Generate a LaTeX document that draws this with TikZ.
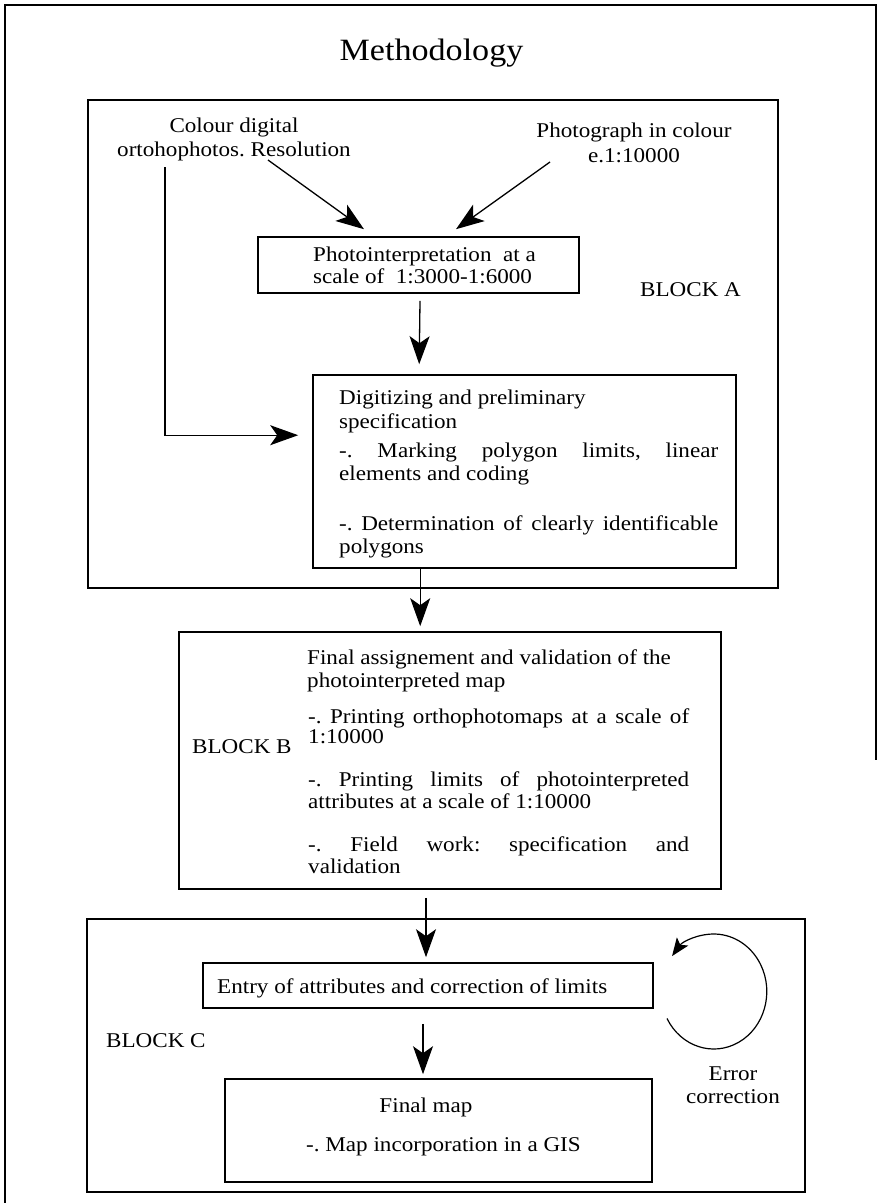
\documentclass[tikz,border=0pt]{standalone}
\usepackage{fontspec}
\setmainfont{Liberation Serif}[FakeStretch=1.1]
\usetikzlibrary{arrows.meta,calc}
\begin{document}
\begin{tikzpicture}[x=1pt,y=1pt,
  boxline/.style={draw=black,line width=1.6pt,inner sep=0pt},
  container/.style={boxline},
  txt/.style={inner sep=0pt,anchor=base west,font=\fontsize{21}{24}\selectfont\frenchspacing},
  ctxt/.style={txt,anchor=base},
  arr/.style={line width=1.3pt,-{Stealth[length=28pt,width=20pt,inset=7pt]}},
  looparr/.style={line width=1.2pt,-{Stealth[length=18pt,width=14pt,inset=4pt]}}]
\useasboundingbox (0,0) rectangle (877,-1203);
% outer frame (left, top, right part)
\draw[line width=2pt] (5,-1203) -- (5,-5) -- (876,-5) -- (876,-760);
\node[inner sep=0pt,anchor=base,font=\fontsize{31}{36}\selectfont] (title) at (431.5,-60) {Methodology};
% block A
\node[container,minimum width=690pt,minimum height=488pt] (blockA) at (433,-344) {};
\node[ctxt] (colour1) at (234,-132) {Colour digital};
\node[ctxt] (colour2) at (234,-156) {ortohophotos. Resolution};
\node[ctxt] (photo1) at (634,-137) {Photograph in colour};
\node[ctxt] (photo2) at (634,-162) {e.1:10000};
\node[boxline,minimum width=321pt,minimum height=56pt] (pi) at (418.5,-265) {};
\node[txt] (pi1) at (313,-261) {Photointerpretation\ \ at a};
\node[txt] (pi2) at (313,-283) {scale of\ \ 1:3000-1:6000};
\node[txt] (blockAlbl) at (640,-296) {BLOCK A};
\node[boxline,minimum width=423pt,minimum height=193pt] (digit) at (524.5,-471.5) {};
\node[txt] (d1) at (339,-404) {Digitizing and preliminary};
\node[txt] (d2) at (339,-428) {specification};
\node[txt] (d3) at (339,-457) {\makebox[379pt][s]{-. Marking polygon limits, linear}};
\node[txt] (d4) at (339,-480) {elements and coding};
\node[txt] (d5) at (339,-530) {\makebox[379pt][s]{-. Determination of clearly identificable}};
\node[txt] (d6) at (339,-553) {polygons};
\draw[arr] ($(colour2.base)+(34,-4)$) -- ($(pi.north)+(-54.5,7)$);
\draw[arr] ($(photo2.base)+(-84,0)$) -- ($(pi.north)+(37.5,7)$);
\draw[arr] ($(pi.south)+(1.5,-7)$) -- ($(digit.north west)+(107,10)$);
\draw[arr] ($(colour2.base)+(-69,-11)$) |- ($(digit.north west)+(-14,-61)$);
% block B
\node[container,minimum width=542pt,minimum height=257pt] (blockB) at (450,-760.5) {};
\node[txt] (blockBlbl) at (192,-753) {BLOCK B};
\node[txt] (b1) at (307,-664) {Final assignement and validation of the};
\node[txt] (b2) at (307,-687) {photointerpreted map};
\node[txt] (b3) at (308,-723) {\makebox[381pt][s]{-. Printing orthophotomaps at a scale of}};
\node[txt] (b4) at (308,-743) {1:10000};
\node[txt] (b5) at (308,-786) {\makebox[381pt][s]{-. Printing limits of photointerpreted}};
\node[txt] (b6) at (308,-808) {attributes at a scale of 1:10000};
\node[txt] (b7) at (308,-851) {\makebox[381pt][s]{-. Field work: specification and}};
\node[txt] (b8) at (308,-873) {validation};
\draw[arr] ($(digit.south west)+(108,0)$) -- ($(blockB.north west)+(242,5)$);
% block C
\node[container,minimum width=718pt,minimum height=273pt] (blockC) at (446,-1055.5) {};
\node[boxline,minimum width=450pt,minimum height=45pt] (entry) at (428,-985.5) {};
\node[txt] (entrytxt) at (217,-993) {Entry of attributes and correction of limits};
\node[boxline,minimum width=427pt,minimum height=103pt] (final) at (438.5,-1130.5) {};
\node[ctxt] (final1) at (426,-1112) {Final map};
\node[txt] (final2) at (306,-1151) {-. Map incorporation in a GIS};
\node[txt] (blockClbl) at (106,-1047) {BLOCK C};
\node[ctxt] (err1) at (733,-1080) {Error};
\node[ctxt] (err2) at (733,-1103) {correction};
\draw[arr] ($(blockB.south)+(-24,-8)$) -- ($(entry.north)+(-2,5)$);
\draw[arr] ($(entry.south)+(-5,-15)$) -- ($(final.north)+(-15.5,4)$);
\coordinate (loopc) at ($(entry.east)+(60,-6)$);
\draw[looparr] ($(loopc)+(208:53 and 57.5)$) arc[start angle=208,end angle=502,x radius=53,y radius=57.5];
\end{tikzpicture}
\end{document}
